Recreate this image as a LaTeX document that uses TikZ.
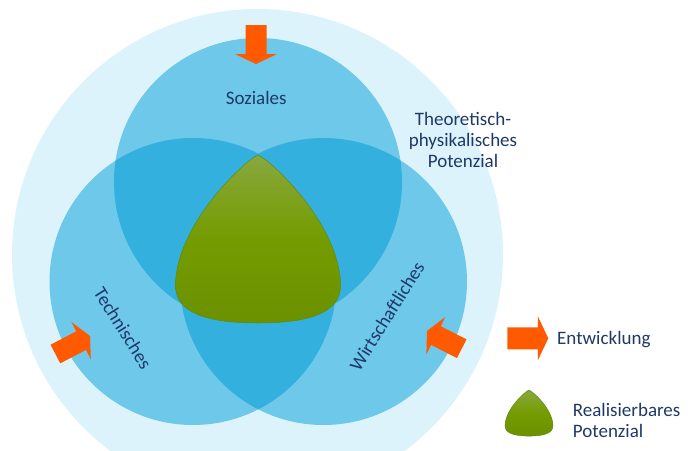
\documentclass[tikz,border=0pt]{standalone}
\usepackage{fontspec}
\setmainfont{Carlito}
\definecolor{outerblue}{HTML}{DDF3FC}
\definecolor{circblue}{HTML}{6DC8E9}
\definecolor{overblue}{HTML}{34B0DE}
\definecolor{orangeA}{HTML}{FF5A00}
\definecolor{navy}{HTML}{1F3868}
\definecolor{greenTop}{HTML}{88A83F}
\definecolor{greenMid}{HTML}{749C00}
\definecolor{greenBot}{HTML}{6B9100}
\definecolor{greenEdge}{HTML}{5F8A10}
\begin{document}
\begin{tikzpicture}[x=1pt,y=-1pt,
  lbl/.style={text=navy,font=\fontsize{19}{21}\selectfont,inner sep=0pt},
  greenshape/.pic={
    \shadedraw[top color=greenTop,bottom color=greenBot,middle color=greenMid,draw=greenEdge,line width=0.5pt]
      (0,0) .. controls (-14,6) and (-82,70) .. (-82.5,130)
      .. controls (-83,157) and (-53,168) .. (0,168)
      .. controls (53,168) and (83,157) .. (82.5,130)
      .. controls (82,70) and (14,6) .. (0,0) -- cycle;
  },
  orarrow/.pic={
    \fill[orangeA] (0,0) -- (-10,-21) -- (-10,-10.5) -- (-39,-10.5) -- (-39,10.5) -- (-10,10.5) -- (-10,21) -- cycle;
  }]
\useasboundingbox (0,0) rectangle (688,450);
\clip (0,0) rectangle (688,450);
\coordinate (co) at (257.5,254.5);
\coordinate (ct) at (258,182);
\coordinate (cl) at (193,281.5);
\coordinate (cr) at (323.5,281.5);
\fill[outerblue] (co) circle[radius=245.5];
\fill[circblue] (ct) circle[radius=144];
\fill[circblue] (cl) circle[radius=143.5];
\fill[circblue] (cr) circle[radius=143.5];
\begin{scope}
  \clip (ct) circle[radius=144];
  \fill[overblue] (cl) circle[radius=143.5];
  \fill[overblue] (cr) circle[radius=143.5];
\end{scope}
\begin{scope}
  \clip (cl) circle[radius=143.5];
  \fill[overblue] (cr) circle[radius=143.5];
\end{scope}
% green realisable potential
\pic at (258,155) {greenshape};
% arrows
\pic[rotate=-90] at (256,64) {orarrow};
\pic[rotate=27.5] at (90,336) {orarrow};
\pic[rotate=153] at (427,331) {orarrow};
\pic[scale=1.05] at (548.3,338.3) {orarrow};
\pic[xscale=0.29,yscale=0.274] at (529,390) {greenshape};
% labels
\node[lbl,anchor=base] (soz) at (256.2,104) {Soziales};
\node[lbl,anchor=base] (th1) at (463,125) {Theoretisch-};
\node[lbl,anchor=base] (th2) at (463,146) {physikalisches};
\node[lbl,anchor=base] (th3) at (463,167) {Potenzial};
\node[lbl,rotate=-58] (tech) at (123,328) {Technisches};
\node[lbl,rotate=58] (wirt) at (387,316) {Wirtschaftliches};
\node[lbl,anchor=base west] (entw) at (557,344) {Entwicklung};
\node[lbl,anchor=base west] (real1) at (572.7,416.7) {Realisierbares};
\node[lbl,anchor=base west] (real2) at (572.7,437.5) {Potenzial};
\end{tikzpicture}
\end{document}
